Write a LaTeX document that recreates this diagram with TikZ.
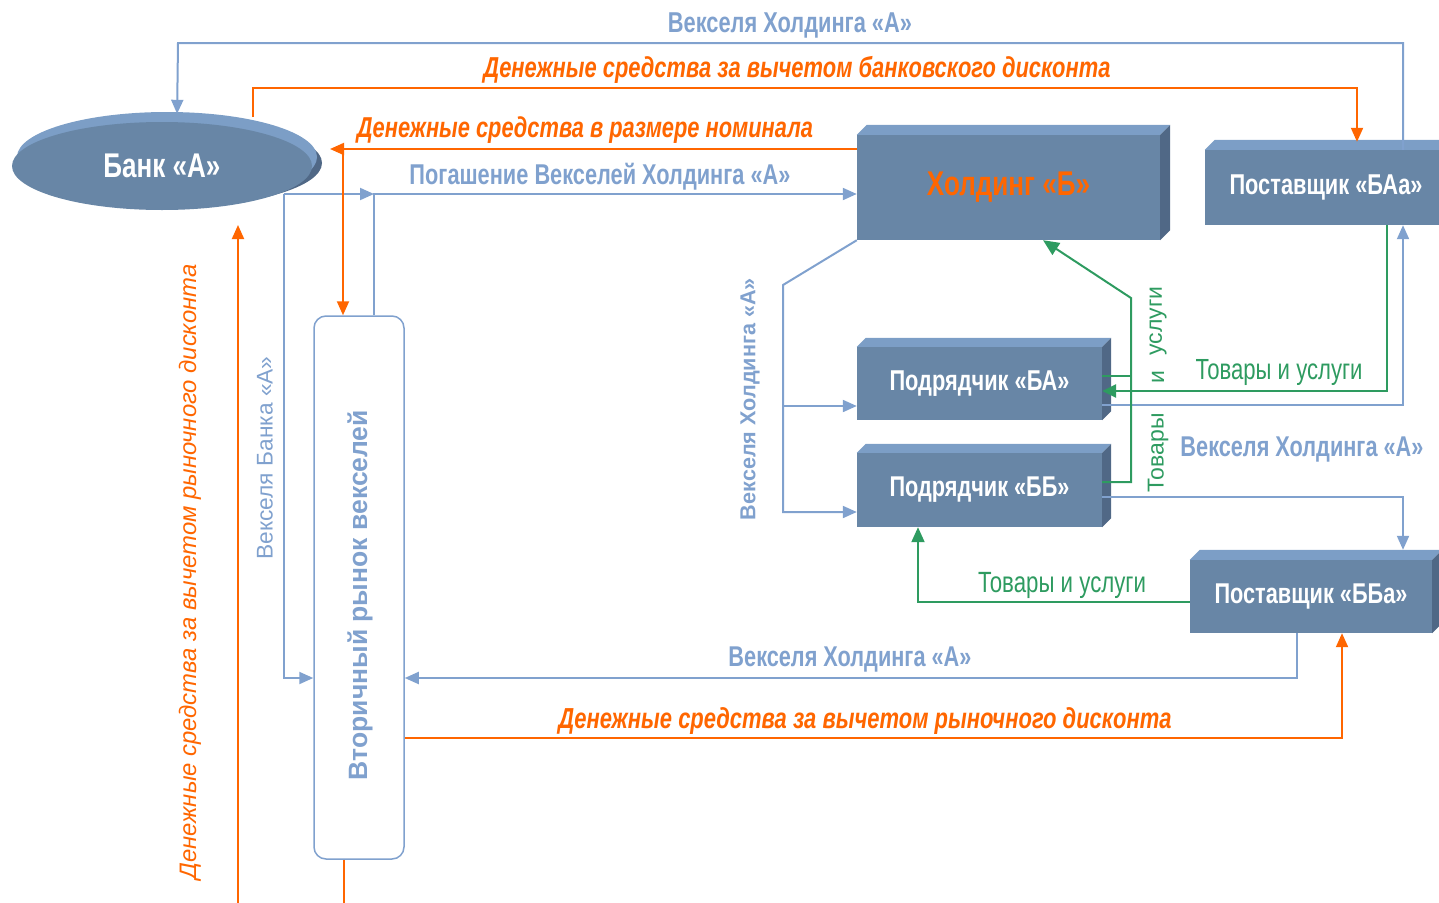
\documentclass[tikz,border=0pt]{standalone}
\usepackage{fontspec}
\setmainfont{Liberation Sans}
\newfontfamily\nar{Liberation Sans}[FakeStretch=0.76]
\usetikzlibrary{arrows.meta,shapes.geometric,calc}
\definecolor{boxc}{RGB}{104,134,166}
\definecolor{topc}{RGB}{124,158,198}
\definecolor{sidec}{RGB}{80,104,134}
\definecolor{lblue}{RGB}{128,161,206}
\definecolor{oran}{RGB}{255,102,0}
\definecolor{grn}{RGB}{46,155,96}
\newcommand\lab[2]{\resizebox{#1pt}{!}{#2}}
\newcommand\boxfaces[2]{%
 \fill[topc] (#1.north west) -- ++(#2,-#2) -- ($(#1.north east)+(#2,-#2)$) -- (#1.north east) -- cycle;
 \fill[sidec] (#1.north east) -- ++(#2,-#2) -- ($(#1.south east)+(#2,-#2)$) -- (#1.south east) -- cycle;}
\begin{document}
\begin{tikzpicture}[x=1pt,y=-1pt,
  cube/.style={rectangle,fill=boxc,inner sep=0pt,text=white},
  tl/.style={inner sep=0pt},
  arr/.style={-{Triangle[length=14pt,width=12pt]}},
  bl/.style={draw=lblue,line width=2pt},
  orl/.style={draw=oran,line width=2pt},
  grl/.style={draw=grn,line width=2pt}]
\useasboundingbox (0,0) rectangle (1439,902);
% ---- bank
\fill[sidec] (170,163) ellipse [x radius=152, y radius=44];
\fill[topc] (167,157) ellipse [x radius=150, y radius=45];
\node[ellipse,fill=boxc,minimum width=300,minimum height=88,inner sep=0pt,text=white] (bank) at (162,166) {\lab{117}{\nar\bfseries Банк «А»}};
% ---- boxes
\node[cube,minimum width=303,minimum height=105] (hold) at (1008.5,187.5) {\lab{163}{\nar\bfseries\color{oran}Холдинг «Б»}};
\boxfaces{hold}{10}
\node[cube,minimum width=242,minimum height=75] (supA) at (1326,187.5) {\lab{193}{\nar\bfseries Поставщик «БАа»}};
\boxfaces{supA}{10}
\node[cube,minimum width=245,minimum height=73] (pBA) at (979.5,383.5) {\lab{180}{\nar\bfseries Подрядчик «БА»}};
\boxfaces{pBA}{9}
\node[cube,minimum width=245,minimum height=74] (pBB) at (979.5,490) {\lab{180}{\nar\bfseries Подрядчик «ББ»}};
\boxfaces{pBB}{9}
\node[cube,minimum width=242,minimum height=73] (supB) at (1311,596.5) {\lab{193}{\nar\bfseries Поставщик «ББа»}};
\boxfaces{supB}{10}
% ---- secondary market
\node[draw=lblue,line width=1.5pt,rounded corners=12pt,fill=white,minimum width=90,minimum height=543,inner sep=0pt] (mkt) at (359,587.5) {};
\node[tl,rotate=90,text=lblue] (mktl) at (360,595) {\lab{370}{\bfseries Вторичный рынок векселей}};
% ---- coordinates
\coordinate (bk1) at (253,117);
\coordinate (bk2) at (284,194);
\coordinate (jn1) at (374,194);
\coordinate (jo1) at (343,149);
\coordinate (hb) at (783,285);
\coordinate (hb2) at (783,406);
\coordinate (gj) at (1131,298);
\coordinate (lo1) at (238,905);
\coordinate (lo2) at (238,225);
% ---- blue connectors
\draw[bl,arr,shorten >=8pt] ([xshift=77]supA.north) |- (178,43) -- ([xshift=15]bank.north);
\draw[bl,arr] ([xshift=15]mkt.north) |- ([yshift=-6.5]hold.west);
\draw[bl,arr] (bk2) -- (jn1);
\draw[bl,arr] (bk2) |- ([yshift=-90.5]mkt.west);
\draw[bl,arr] ([xshift=-14]supB.south) |- ([yshift=-90.5]mkt.east);
\draw[bl,arr] (hold.south west) -- (hb) |- ([yshift=-22]pBB.west);
\draw[bl,arr] (hb2) -- ([yshift=-22.5]pBA.west);
\draw[bl,arr] ([yshift=-21.5]pBA.east) -| ([xshift=77]supA.south);
\draw[bl,arr,shorten >=10pt] ([yshift=-7]pBB.east) -| ([xshift=92]supB.north);
% ---- orange connectors
\draw[orl,arr] (bk1) |- (1357,88) -- ([xshift=31,yshift=8]supA.north);
\draw[orl,arr] ([yshift=38.5]hold.west) -- (330,149);
\draw[orl,arr] (jo1) -- ([xshift=-16]mkt.north);
\draw[orl,arr] (lo1) -- (lo2);
\draw[orl] ([xshift=-15]mkt.south) -- ++(0,50);
\draw[orl,arr] ([yshift=-150.5]mkt.east) -| ([xshift=31]supB.south);
% ---- green connectors
\draw[grl] ([yshift=7.5]pBA.east) -- (1131,376);
\draw[grl,-{Triangle[length=16pt,width=14pt]}] ([yshift=8]pBB.east) -| (gj) -- ([xshift=34.5]hold.south);
\draw[grl,line width=2.6pt,-{Triangle[length=14pt,width=13pt]}] ([xshift=61]supA.south) |- ([yshift=-7.5]pBA.east);
\draw[grl,-{Triangle[length=15pt,width=13pt]}] ([yshift=-5.5]supB.west) -| ([xshift=-61.5]pBB.south);
% ---- labels
\node[tl,text=lblue] (l1) at (790,25) {\lab{244}{\nar\bfseries Векселя Холдинга «А»}};
\node[tl,text=oran] (l2) at (797,70) {\lab{627}{\nar\bfseries\itshape Денежные средства за вычетом банковского дисконта}};
\node[tl,text=oran] (l3) at (585,130) {\lab{456}{\nar\bfseries\itshape Денежные средства в размере номинала}};
\node[tl,text=lblue] (l4) at (600,177) {\lab{381}{\nar\bfseries Погашение Векселей Холдинга «А»}};
\node[tl,text=grn] (l5) at (1279,373) {\lab{167}{\nar Товары и услуги}};
\node[tl,text=lblue] (l6) at (1302,450) {\lab{243}{\nar\bfseries Векселя Холдинга «А»}};
\node[tl,text=grn] (l7) at (1062,585) {\lab{168}{\nar Товары и услуги}};
\node[tl,text=lblue] (l8) at (850,660) {\lab{243}{\nar\bfseries Векселя Холдинга «А»}};
\node[tl,text=oran] (l9) at (865,721) {\lab{613}{\nar\bfseries\itshape Денежные средства за вычетом рыночного дисконта}};
\node[tl,text=lblue,rotate=90] (l10) at (750,399) {\lab{242}{\bfseries Векселя Холдинга «А»}};
\node[tl,text=lblue,rotate=90] (l11) at (265,458) {\lab{203}{Векселя Банка «А»}};
\node[tl,text=oran,rotate=90] (l12) at (190,572) {\lab{615}{\itshape Денежные средства за вычетом рыночного дисконта}};
\node[tl,text=grn,rotate=90,font=\fontsize{23}{23}\selectfont] (l13) at (1158,453) {Товары};
\node[tl,text=grn,rotate=90,font=\fontsize{23}{23}\selectfont] (l14) at (1158,377) {и};
\node[tl,text=grn,rotate=90,font=\fontsize{23}{23}\selectfont] (l15) at (1158,321) {услуги};
\end{tikzpicture}
\end{document}
